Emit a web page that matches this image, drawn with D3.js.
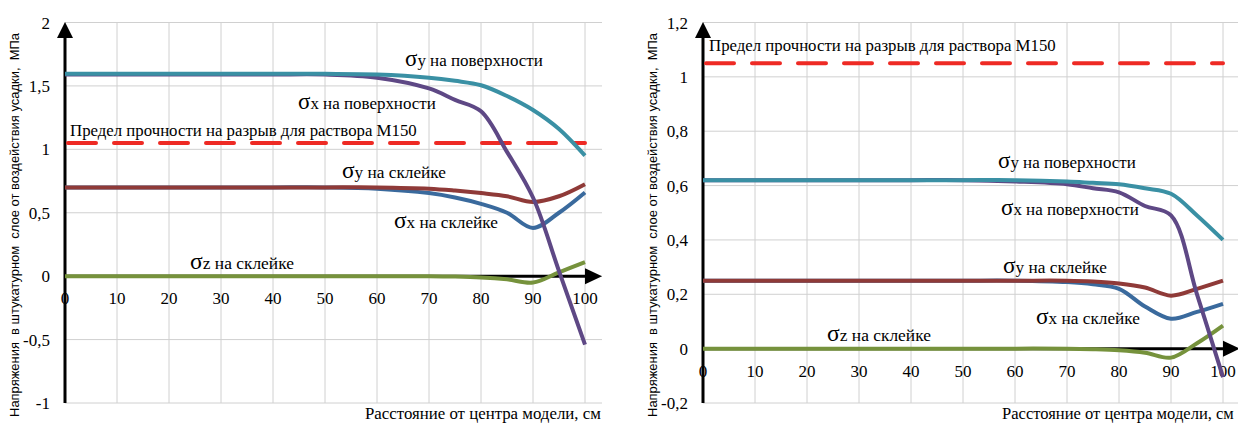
<!DOCTYPE html>
<html>
<head>
<meta charset="utf-8">
<script src="https://cdn.jsdelivr.net/npm/d3@7"></script>
</head>
<body style="margin:0">
<script>
// distances from centre of the model, cm
var xs = [0, 10, 20, 30, 40, 50, 60, 70, 75, 80, 85, 90, 95, 100];
var xTicks = [0, 10, 20, 30, 40, 50, 60, 70, 80, 90, 100];

// left chart, MPa
var leftSyTop  = [1.595, 1.595, 1.595, 1.595, 1.595, 1.595, 1.59, 1.565, 1.54, 1.505, 1.42, 1.31, 1.16, 0.95];
var leftSxTop  = [1.59, 1.59, 1.59, 1.59, 1.59, 1.59, 1.565, 1.48, 1.39, 1.30, 0.98, 0.62, 0.04, -0.54];
var leftSyGlue = [0.70, 0.70, 0.70, 0.70, 0.70, 0.70, 0.70, 0.69, 0.675, 0.655, 0.63, 0.585, 0.63, 0.725];
var leftSxGlue = [0.70, 0.70, 0.70, 0.70, 0.70, 0.70, 0.69, 0.655, 0.62, 0.57, 0.50, 0.38, 0.50, 0.66];
var leftSzGlue = [0, 0, 0, 0, 0, 0, 0, 0, -0.003, -0.01, -0.025, -0.05, 0.03, 0.11];
var leftTicks = [2, 1.5, 1, 0.5, 0, -0.5, -1];

// right chart, MPa
var rightSyTop  = [0.62, 0.62, 0.62, 0.62, 0.62, 0.62, 0.62, 0.615, 0.61, 0.605, 0.59, 0.57, 0.49, 0.40];
var rightSxTop  = [0.62, 0.62, 0.62, 0.62, 0.62, 0.62, 0.615, 0.605, 0.59, 0.575, 0.525, 0.49, 0.20, -0.105];
var rightSyGlue = [0.25, 0.25, 0.25, 0.25, 0.25, 0.25, 0.25, 0.25, 0.247, 0.24, 0.225, 0.195, 0.22, 0.25];
var rightSxGlue = [0.25, 0.25, 0.25, 0.25, 0.25, 0.25, 0.25, 0.245, 0.237, 0.22, 0.155, 0.11, 0.135, 0.165];
var rightSzGlue = [0, 0, 0, 0, 0, 0, 0, 0, -0.002, -0.006, -0.015, -0.033, 0.02, 0.085];
var rightTicks = [1.2, 1, 0.8, 0.6, 0.4, 0.2, 0, -0.2];

var limit = 1.05;
var limitLabel = "Предел прочности на разрыв для раствора М150";
var yTitle = "Напряжения \u00a0в штукатурном \u00a0слое от воздействия усадки, \u00a0МПа";
var xTitle = "Расстояние от центра модели, см";

var colors = {
  syTop: "#3A90A4", sxTop: "#5E4885", syGlue: "#8F3A38",
  sxGlue: "#3A6A9D", szGlue: "#76923C", limit: "#EE2A24"
};

var svg = d3.select("body").append("svg")
    .attr("width", 1238)
    .attr("height", 424)
    .style("display", "block");

function fmt(d) {
  return String(d).replace(".", ",");
}

// squeeze or stretch a text horizontally to the width it has in the picture
function fitWidth(sel, x, y, width) {
  var w = sel.node().getComputedTextLength();
  var k = w > 0 ? width / w : 1;
  sel.attr("x", 0).attr("y", 0)
      .attr("transform", "translate(" + x + "," + y + ") scale(" + k + ",1)");
}

function drawChart(cfg) {
  var x = d3.scaleLinear().domain([0, 100]).range([cfg.left, cfg.left + 520]);
  var y = d3.scaleLinear().domain(cfg.yDomain).range([403, 22.5]);
  var g = svg.append("g");

  // grid
  g.selectAll(".hgrid").data(cfg.ticks).enter().append("line")
      .attr("x1", cfg.left).attr("x2", cfg.gridRight)
      .attr("y1", d => y(d)).attr("y2", d => y(d))
      .attr("stroke", "#d0d0d0").attr("stroke-width", 1);
  g.selectAll(".vgrid").data(xTicks).enter().append("line")
      .attr("x1", d => x(d)).attr("x2", d => x(d))
      .attr("y1", y(cfg.yDomain[1])).attr("y2", y(cfg.yDomain[0]))
      .attr("stroke", "#d0d0d0").attr("stroke-width", 1);

  // tick labels
  g.selectAll(".ylab").data(cfg.ticks).enter().append("text")
      .attr("x", cfg.left - 15).attr("y", d => y(d) + 6)
      .attr("text-anchor", "end")
      .style("font-family", "'Liberation Serif'")
      .style("font-size", "17px")
      .text(fmt);
  g.selectAll(".xlab").data(xTicks).enter().append("text")
      .attr("x", d => x(d)).attr("y", y(0) + 28)
      .attr("text-anchor", "middle")
      .style("font-family", "'Liberation Serif'")
      .style("font-size", "17px")
      .text(d => d);

  // axes with arrows
  g.append("line")
      .attr("x1", cfg.left).attr("x2", cfg.arrowRight - 14)
      .attr("y1", y(0)).attr("y2", y(0))
      .attr("stroke", "#000").attr("stroke-width", 3);
  g.append("path")
      .attr("d", "M" + cfg.arrowRight + "," + y(0) + "l-17,-8v16z")
      .attr("fill", "#000");
  g.append("line")
      .attr("x1", cfg.left).attr("x2", cfg.left)
      .attr("y1", 403).attr("y2", 36)
      .attr("stroke", "#000").attr("stroke-width", 3);
  g.append("path")
      .attr("d", "M" + cfg.left + ",22l-8,16h16z")
      .attr("fill", "#000");

  // strength limit
  g.append("line")
      .attr("x1", x(0) + 3).attr("x2", x(100))
      .attr("y1", y(limit)).attr("y2", y(limit))
      .attr("stroke", colors.limit).attr("stroke-width", 4)
      .attr("stroke-dasharray", "28,18")
      .attr("stroke-linecap", "round");

  var line = d3.line()
      .x((d, i) => x(xs[i]))
      .y(d => y(d))
      .curve(d3.curveCatmullRom);

  cfg.series.forEach(function(s) {
    g.append("path")
        .datum(s.values)
        .attr("d", line)
        .attr("fill", "none")
        .attr("stroke", s.color)
        .attr("stroke-width", 4)
        .attr("stroke-linejoin", "round");
  });

  // annotations
  cfg.labels.forEach(function(l) {
    var t = g.append("text").attr("x", l.x).attr("y", l.y)
        .style("font-family", "'Liberation Serif'")
        .style("font-size", "17px");
    if (l.sigma) {
      t.append("tspan").style("font-size", "23px").text("σ");
      t.append("tspan").text(l.sigma);
      t.append("tspan").text(" " + l.text);
    } else {
      t.text(l.text);
    }
    if (l.len) fitWidth(t, l.x, l.y, l.len);
  });

  var yt = g.append("text")
      .attr("text-anchor", "middle")
      .style("font-family", "'Liberation Sans'")
      .style("font-size", "13px")
      .text(yTitle);
  var yw = yt.node().getComputedTextLength();
  yt.attr("transform", "translate(" + (cfg.yTitleX + 5) + ",225) rotate(-90) scale(" + (384 / yw) + ",1)");

  var xt = g.append("text")
      .style("font-family", "'Liberation Serif'")
      .style("font-size", "17px")
      .text(xTitle);
  fitWidth(xt, cfg.xTitleX, 419, cfg.xTitleLen);
}

drawChart({
  left: 65, gridRight: 602, arrowRight: 602, yDomain: [-1, 2], ticks: leftTicks,
  yTitleX: 14, xTitleX: 365, xTitleLen: 236,
  series: [
    {values: leftSzGlue, color: colors.szGlue},
    {values: leftSxGlue, color: colors.sxGlue},
    {values: leftSyGlue, color: colors.syGlue},
    {values: leftSxTop, color: colors.sxTop},
    {values: leftSyTop, color: colors.syTop}
  ],
  labels: [
    {x: 405, y: 66, sigma: "y", text: "на поверхности", len: 138},
    {x: 298, y: 109, sigma: "x", text: "на поверхности", len: 138},
    {x: 70, y: 136, text: limitLabel, len: 347},
    {x: 342, y: 178, sigma: "y", text: "на склейке", len: 104},
    {x: 394, y: 228, sigma: "x", text: "на склейке", len: 104},
    {x: 190, y: 269, sigma: "z", text: "на склейке", len: 104}
  ]
});

drawChart({
  left: 703, gridRight: 1238, arrowRight: 1240, yDomain: [-0.2, 1.2], ticks: rightTicks,
  yTitleX: 652, xTitleX: 1002, xTitleLen: 232,
  series: [
    {values: rightSzGlue, color: colors.szGlue},
    {values: rightSxGlue, color: colors.sxGlue},
    {values: rightSyGlue, color: colors.syGlue},
    {values: rightSxTop, color: colors.sxTop},
    {values: rightSyTop, color: colors.syTop}
  ],
  labels: [
    {x: 709, y: 51, text: limitLabel, len: 347},
    {x: 998, y: 168, sigma: "y", text: "на поверхности", len: 138},
    {x: 1001, y: 215, sigma: "x", text: "на поверхности", len: 138},
    {x: 1003, y: 273, sigma: "y", text: "на склейке", len: 104},
    {x: 1036, y: 324, sigma: "x", text: "на склейке", len: 104},
    {x: 827, y: 341, sigma: "z", text: "на склейке", len: 104}
  ]
});
</script>
</body>
</html>
